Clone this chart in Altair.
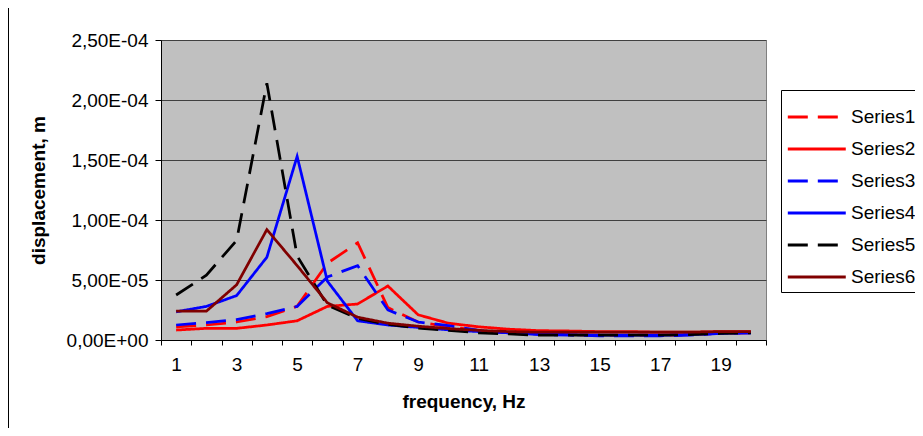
import altair as alt
import pandas as pd

freq = list(range(1, 21))
series_names = ["Series1", "Series2", "Series3", "Series4", "Series5", "Series6"]
series_colors = ["#FF0000", "#FF0000", "#0000FF", "#0000FF", "#000000", "#800000"]
series_dash = [[20, 10], [1, 0], [20, 10], [1, 0], [20, 10], [1, 0]]

s1 = [1.1e-5, 1.25e-5, 1.5e-5, 1.95e-5, 2.8e-5, 6.4e-5, 8.1e-5, 2.7e-5, 1.5e-5, 1.1e-5,
      8e-6, 6e-6, 5e-6, 4.5e-6, 4e-6, 4e-6, 4e-6, 4.5e-6, 5.5e-6, 6e-6]
s2 = [8.3e-6, 9.7e-6, 9.7e-6, 1.25e-5, 1.6e-5, 2.8e-5, 3.0e-5, 4.5e-5, 2.1e-5, 1.4e-5,
      1.1e-5, 9e-6, 7.8e-6, 7.5e-6, 7e-6, 7e-6, 6.5e-6, 6.5e-6, 7e-6, 7e-6]
s3 = [1.25e-5, 1.45e-5, 1.7e-5, 2.2e-5, 2.8e-5, 5.25e-5, 6.2e-5, 2.5e-5, 1.5e-5, 1.2e-5,
      8e-6, 6e-6, 4.5e-6, 4e-6, 3.5e-6, 3.5e-6, 3.5e-6, 4e-6, 5.5e-6, 6e-6]
s4 = [2.35e-5, 2.8e-5, 3.7e-5, 6.9e-5, 1.53e-4, 4.9e-5, 1.6e-5, 1.25e-5, 1.05e-5, 8.5e-6,
      7e-6, 6e-6, 5e-6, 4.5e-6, 4e-6, 4e-6, 4e-6, 4.5e-6, 5.5e-6, 6e-6]
s5 = [3.75e-5, 5.4e-5, 8.3e-5, 2.14e-4, 7.0e-5, 2.9e-5, 1.8e-5, 1.3e-5, 1.0e-5, 8e-6,
      6e-6, 5e-6, 4e-6, 4e-6, 4e-6, 4e-6, 4e-6, 4.5e-6, 5.5e-6, 6e-6]
s6 = [2.4e-5, 2.4e-5, 4.6e-5, 9.2e-5, 6.2e-5, 3.1e-5, 1.9e-5, 1.4e-5, 1.15e-5, 9.5e-6,
      8e-6, 7e-6, 6.5e-6, 6.5e-6, 6.5e-6, 6.5e-6, 6.5e-6, 6.5e-6, 7e-6, 7e-6]

y_ticks = [0, 5e-5, 1e-4, 1.5e-4, 2e-4, 2.5e-4]
x_bounds = [f - 0.5 for f in freq] + [freq[-1] + 0.5]

rows = []
for name, vals in zip(series_names, [s1, s2, s3, s4, s5, s6]):
    for f, v in zip(freq, vals):
        rows.append({"frequency": f, "displacement": v, "series": name})
df = pd.DataFrame(rows)

FONT = "Liberation Sans"

legend = alt.Legend(
    orient="none", legendX=620, legendY=50, title=None,
    strokeColor="black", fillColor="white", padding=5,
    symbolType="M-1,0H1.87", symbolSize=1632, symbolStrokeWidth=3,
    symbolFillColor="transparent",
    labelFontSize=19, labelFont=FONT, labelColor="black", rowPadding=0,
    labelOffset=21, labelLimit=200,
)

lines = alt.Chart(df).mark_line(strokeWidth=2.75, clip=True).encode(
    x=alt.X("frequency:Q",
            scale=alt.Scale(domain=[0.5, 20.5], nice=False, zero=False),
            axis=alt.Axis(values=x_bounds, title="frequency, Hz", grid=False,
                          labelExpr="((datum.value + 0.5) % 2 == 1 && datum.value < 20) ? format(datum.value + 0.5, 'd') : ''",
                          labelOffset=15.125, labelOverlap=False, labelFlush=False, labelBound=False,
                          tickSize=5, labelPadding=10, titlePadding=18)),
    y=alt.Y("displacement:Q",
            scale=alt.Scale(domain=[0, 2.5e-4], nice=False),
            axis=alt.Axis(values=y_ticks, title="displacement, m", grid=True,
                          labelExpr="replace(replace(replace(format(datum.value, '.2e'), '.', ','), 'e-', 'E-0'), 'e+', 'E+0')",
                          tickSize=6, labelPadding=7, titlePadding=18)),
    color=alt.Color("series:N", scale=alt.Scale(domain=series_names, range=series_colors), legend=legend),
    strokeDash=alt.StrokeDash("series:N", scale=alt.Scale(domain=series_names, range=series_dash), legend=legend),
)

frame = alt.Chart(pd.DataFrame({"a": [0]})).mark_rule(color="black", strokeWidth=1, clip=False).encode(
    x=alt.value(-152.5), y=alt.value(-32), y2=alt.value(388)
)

chart = alt.layer(lines, frame).properties(
    width=605, height=300,
    background="white",
    padding={"left": 153, "top": 32, "right": 149, "bottom": 88},
    autosize=alt.AutoSizeParams(type="none"),
).configure_view(
    fill="#C0C0C0", stroke="#808080", strokeWidth=1
).configure_axis(
    labelFont=FONT, labelFontSize=19, labelColor="black",
    titleFont=FONT, titleFontSize=19, titleFontWeight="bold", titleColor="black",
    domainColor="black", tickColor="black", gridColor="#404040", gridWidth=1,
)

chart.save("out.html", embed_options={"renderer": "svg", "actions": False})
